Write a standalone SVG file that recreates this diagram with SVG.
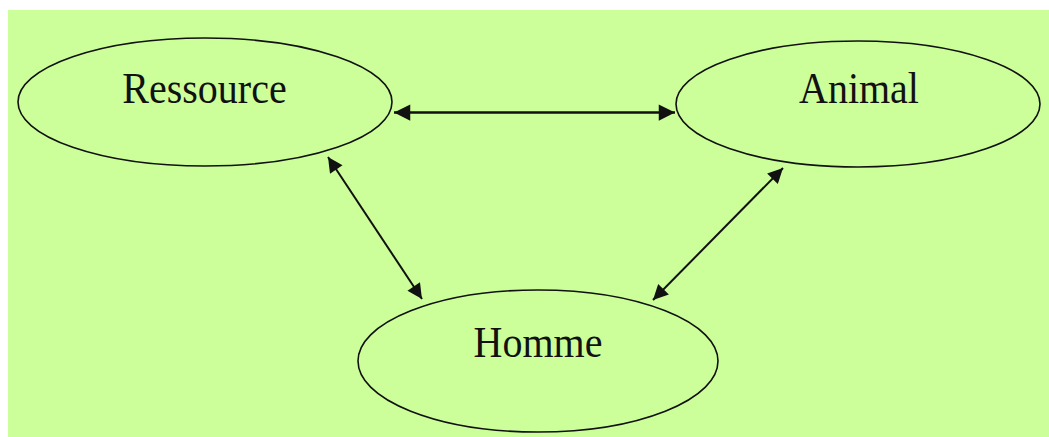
<svg xmlns="http://www.w3.org/2000/svg" width="1049" height="437" viewBox="0 0 1049 437">
  <style>
    .node ellipse { fill: none; stroke: #111; stroke-width: 1.6; }
    .node text { font-family: "Liberation Serif", "Times New Roman", serif; font-size: 40px; fill: #111; text-anchor: middle; }
    .conn line { stroke: #111; fill: none; }
  </style>
  <defs>
    <marker id="ah" viewBox="0 0 10 10" refX="10" refY="5" markerWidth="7" markerHeight="6.5" markerUnits="strokeWidth" orient="auto-start-reverse">
      <path d="M0,0 L10,5 L0,10 z" fill="#111"/>
    </marker>
    <marker id="ah2" viewBox="0 0 10 10" refX="10" refY="5" markerWidth="9" markerHeight="7.5" markerUnits="strokeWidth" orient="auto-start-reverse">
      <path d="M0,0 L10,5 L0,10 z" fill="#111"/>
    </marker>
  </defs>
  <rect x="8" y="10" width="1041" height="427" fill="#CCFF99"/>
  <g id="ressource" class="node">
    <ellipse cx="205" cy="102" rx="187" ry="64"/>
    <text transform="translate(204.5,103) scale(1,1.13)">Ressource</text>
  </g>
  <g id="animal" class="node">
    <ellipse cx="858" cy="104" rx="182" ry="63"/>
    <text transform="translate(859,103) scale(1,1.13)">Animal</text>
  </g>
  <g id="homme" class="node">
    <ellipse cx="538" cy="361" rx="180" ry="71"/>
    <text transform="translate(538,357) scale(1,1.13)">Homme</text>
  </g>
  <g id="connectors" class="conn">
    <line x1="394" y1="112.5" x2="675" y2="112.5" stroke-width="2.5" marker-start="url(#ah)" marker-end="url(#ah)"/>
    <line x1="328" y1="157" x2="422" y2="299" stroke-width="2" marker-start="url(#ah2)" marker-end="url(#ah2)"/>
    <line x1="783" y1="168" x2="653" y2="300" stroke-width="2" marker-start="url(#ah2)" marker-end="url(#ah2)"/>
  </g>
</svg>
